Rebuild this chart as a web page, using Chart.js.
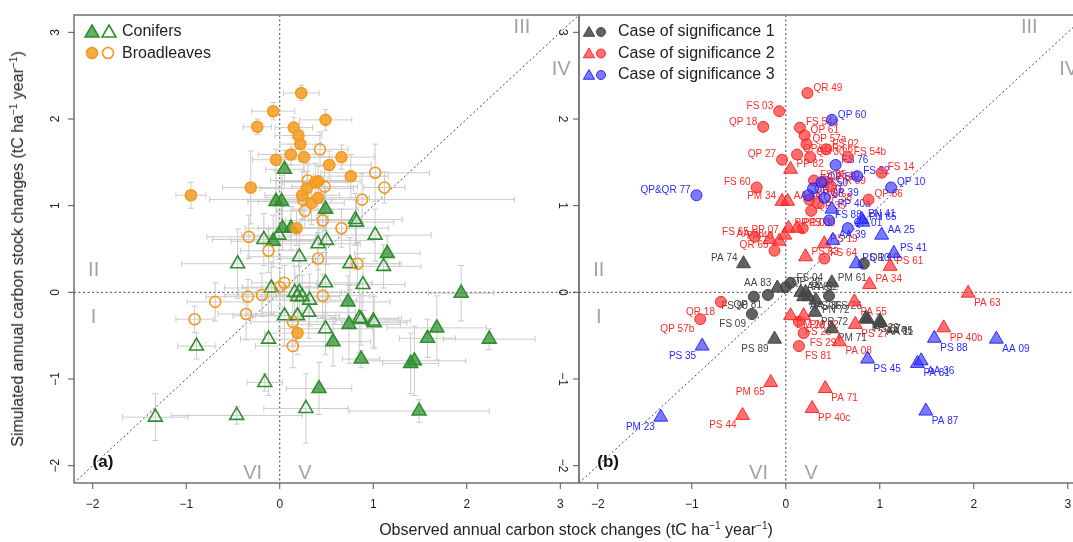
<!DOCTYPE html>
<html>
<head>
<meta charset="utf-8">
<script src="https://cdn.jsdelivr.net/npm/chart.js@4.4.0/dist/chart.umd.min.js"></script>
<style>
  html, body { margin: 0; padding: 0; background: #fff; overflow: hidden; }
  body { width: 1073px; height: 542px; position: relative; font-family: "Liberation Sans", Arial, sans-serif; color: #222; }
  canvas { position: absolute; top: 0; }
  #chartA { left: 0; }
  #chartB { left: 540px; }
  .title { position: absolute; white-space: nowrap; font-size: 16px; }
  .title sup { font-size: 10px; vertical-align: 6px; line-height: 0; }
  #ytitle { left: 18px; top: 249px; transform: translate(-50%, -50%) rotate(-90deg); }
  #xtitle { left: 576px; top: 530px; transform: translate(-50%, -50%); }
</style>
</head>
<body>
<canvas id="chartA" width="580" height="542"></canvas>
<canvas id="chartB" width="560" height="542"></canvas>
<div class="title" id="ytitle">Simulated annual carbon stock changes (tC ha<sup>−1</sup> year<sup>−1</sup>)</div>
<div class="title" id="xtitle">Observed annual carbon stock changes (tC ha<sup>−1</sup> year<sup>−1</sup>)</div>
<script>
const siteLabels = [
  'QR 49','FS 03','QP 18','QP 60','FS 54a','QP 61','QP 57a','QP&QR 66','QP 30','QP 27',
  'FS 02','FS 54b','FS 76','FS 52','FS 14','QP 10','QP 86','FS 60','QP&QR 77','FS 55',
  'QP 59','QR 40','QR 59','QR 50','QR 71','QP 68','QP 38','QP 39','QP 35','FS 88',
  'QP 01','FS 08','FS 65','QR 65','FS 64','QR 10','FS 04','QP 29','FS 90','QP 81',
  'FS 26','FS 09','QR 18','QP 57b','FS 25','FS 29','FS 81',
  'PP 82','PM 34','AA 34','PP 40a','PP 17','PP 03','AA 38','PA 40','PP 07','PN 41',
  'PN 65','AA 25','PS 19','AA 39','PS 41','PS 63','PS 10','PS 61','PA 74','AA 83',
  'PM 61','PA 34','AA 62','PA 52','PS 36','PN 72','AA 76','PA 55','PM 20','PM 02',
  'PP 72','PP 20','AA 05','PS 27','PM 71','PA 08','PS 89','PS 45','PA 63','PP 40b',
  'PS 88','AA 09','PA 81','AA 36','PA 71','PP 40c','PA 87','PM 65','PS 44','PM 23',
  'PS 35','PS 67a','AA 11'
];
const observed = [
  0.23,-0.07,-0.24,0.49,0.15,0.20,0.22,0.12,0.26,-0.04,
  0.43,0.66,0.53,0.76,1.02,1.12,0.88,-0.31,-0.95,0.30,
  0.38,0.41,0.48,0.29,0.24,0.25,0.34,0.41,0.27,0.46,
  0.66,0.18,-0.33,-0.12,0.41,0.83,0.05,0.00,-0.34,-0.19,
  0.46,-0.36,-0.69,-0.91,0.14,0.19,0.14,
  0.05,-0.04,0.02,0.49,0.03,0.12,-0.17,-0.07,-0.01,0.81,
  0.82,1.02,0.41,0.50,1.15,0.21,0.75,1.11,-0.45,-0.09,
  0.49,0.89,0.16,0.21,0.24,0.32,0.19,0.73,0.05,0.19,
  0.31,0.85,1.00,0.74,0.49,0.57,-0.12,0.87,1.94,1.68,
  1.58,2.24,1.40,1.44,0.42,0.28,1.49,-0.16,-0.46,-1.33,
  -0.89,0.87,1.01
];
const simulated = [
  2.30,2.09,1.91,1.99,1.90,1.81,1.71,1.59,1.56,1.53,
  1.65,1.56,1.47,1.34,1.38,1.21,1.07,1.21,1.12,1.29,
  1.27,1.28,1.22,1.20,1.12,1.07,1.03,1.09,0.94,0.83,
  0.74,0.74,0.64,0.48,0.39,0.33,0.11,0.06,-0.05,-0.03,
  -0.04,-0.25,-0.11,-0.31,-0.34,-0.47,-0.62,
  1.42,1.05,1.05,0.96,0.74,0.74,0.61,0.59,0.66,0.84,
  0.81,0.66,0.56,0.60,0.45,0.41,0.33,0.30,0.33,0.05,
  0.11,0.09,0.00,0.00,-0.05,-0.09,-0.05,-0.11,-0.27,-0.27,
  -0.23,-0.30,-0.33,-0.37,-0.42,-0.57,-0.54,-0.77,-0.01,-0.41,
  -0.53,-0.54,-0.82,-0.79,-1.11,-1.34,-1.37,-1.04,-1.42,-1.44,
  -0.62,-0.31,-0.35
];
// 1 = conifer (triangle), 0 = broadleaf (circle)
const isConifer = [
  0,0,0,0,0,0,0,0,0,0, 0,0,0,0,0,0,0,0,0,0, 0,0,0,0,0,0,0,0,0,0,
  0,0,0,0,0,0,0,0,0,0, 0,0,0,0,0,0,0,
  1,1,1,1,1,1,1,1,1,1, 1,1,1,1,1,1,1,1,1,1, 1,1,1,1,1,1,1,1,1,1,
  1,1,1,1,1,1,1,1,1,1, 1,1,1,1,1,1,1,1,1,1, 1,1,1
];
// filled (1) or open (0) symbol in panel (a)
const filledA = [
  1,1,1,1,1,1,1,1,1,1, 0,1,1,1,0,0,0,1,1,0, 1,1,0,1,1,0,1,1,0,0,
  0,1,0,0,0,0,0,0,0,0, 0,0,0,0,0,1,0,
  1,1,1,1,1,1,0,1,0,0, 0,0,0,0,1,0,0,0,0,0, 0,0,0,0,0,0,0,1,0,0,
  0,0,0,1,0,1,0,1,1,1, 1,1,1,1,1,0,1,0,0,0, 0,0,0
];
// case of significance (panel b)
const significance = [
  2,2,2,3,2,2,2,2,2,2, 2,2,3,3,2,3,2,2,3,2, 3,2,2,3,3,2,2,3,2,3,
  3,2,2,2,2,1,1,1,1,1, 1,1,2,2,2,2,2,
  2,2,2,3,2,2,2,2,2,3, 3,3,2,3,3,2,3,2,1,1, 1,2,1,1,1,1,1,2,2,2,
  1,1,1,2,1,2,1,3,2,2, 3,3,3,3,2,2,3,2,2,3, 3,1,1
];
// half-widths of the grey error bars in panel (a)
const errObs = [
  0.19,0.23,0.15,0.28,0.20,0.25,0.22,0.35,0.30,0.25,
  0.30,0.35,0.45,0.40,0.58,0.22,1.63,0.30,0.16,0.40,
  0.35,0.45,0.35,0.50,0.40,0.30,0.35,0.55,0.30,0.40,
  0.50,0.30,0.45,0.30,0.40,0.45,0.35,0.40,0.45,0.40,
  0.50,0.30,0.30,0.20,0.45,0.35,0.40,
  0.20,0.30,0.25,0.35,0.40,0.35,0.55,0.45,0.40,0.50,
  0.40,0.60,0.45,0.50,0.35,0.55,0.55,0.40,0.60,0.50,
  0.50,0.45,0.60,0.45,0.40,0.50,0.35,0.45,0.55,0.45,
  0.50,0.45,0.40,0.55,0.50,0.40,0.30,0.20,0.35,0.53,
  0.30,0.49,0.30,0.55,0.35,0.45,0.75,0.19,0.70,0.35,
  0.20,0.40,0.35
];
const errSim = [
  0.09,0.10,0.09,0.12,0.12,0.14,0.16,0.12,0.18,0.12,
  0.20,0.14,0.16,0.25,0.33,0.18,0.30,0.42,0.15,0.20,
  0.22,0.18,0.25,0.20,0.28,0.22,0.25,0.20,0.20,0.25,
  0.22,0.20,0.25,0.25,0.30,0.25,0.20,0.22,0.20,0.25,
  0.25,0.30,0.22,0.15,0.28,0.25,0.25,
  0.22,0.35,0.30,0.25,0.25,0.25,0.30,0.30,0.28,0.30,
  0.25,0.30,0.30,0.28,0.20,0.40,0.30,0.25,0.40,0.30,
  0.35,0.30,0.30,0.30,0.25,0.30,0.25,0.30,0.35,0.30,
  0.30,0.40,0.30,0.45,0.30,0.28,0.65,0.10,0.32,0.37,
  0.22,0.12,0.35,0.40,0.30,0.40,0.13,0.10,0.10,0.27,
  0.15,0.30,0.30
];
const axisTicks = [-2, -1, 0, 1, 2, 3];
const legendA = ['Conifers', 'Broadleaves'];
const legendB = ['Case of significance 1', 'Case of significance 2', 'Case of significance 3'];
const quadrantNames = ['I', 'II', 'III', 'IV', 'V', 'VI'];

const FONT = '"Liberation Sans", Arial, sans-serif';
const AXMIN = -2.2, AXMAX = 3.2;

const conGreen = '#2f8f2f';
const conFill = 'rgba(47,143,47,0.72)';
const brOrange = '#f39a1f';
const brFill = 'rgba(246,158,36,0.85)';
const sigStroke = ['#444444', 'rgba(255,20,20,0.85)', 'rgba(20,20,255,0.85)'];
const sigFill = ['rgba(70,70,70,0.85)', 'rgba(255,50,50,0.7)', 'rgba(50,50,255,0.65)'];
const sigText = ['#444444', '#ff2a2a', '#2a2aff'];

function pointsWhere(test) {
  const out = [];
  for (let i = 0; i < observed.length; i++) {
    if (test(i)) out.push({ x: observed[i], y: simulated[i], i: i });
  }
  return out;
}

function drawShape(ctx, style, x, y, r, fill, stroke, lw) {
  ctx.save();
  ctx.beginPath();
  if (style === 'triangle') {
    ctx.moveTo(x, y - r);
    ctx.lineTo(x + r * 0.866, y + r * 0.5);
    ctx.lineTo(x - r * 0.866, y + r * 0.5);
    ctx.closePath();
  } else {
    ctx.arc(x, y, r, 0, Math.PI * 2);
  }
  if (fill) { ctx.fillStyle = fill; ctx.fill(); }
  ctx.lineWidth = lw;
  ctx.strokeStyle = stroke;
  ctx.stroke();
  ctx.restore();
}

// dotted reference lines: x = 0, y = 0 and the 1:1 line
function drawReferenceLines(chart) {
  const ctx = chart.ctx, xs = chart.scales.x, ys = chart.scales.y, a = chart.chartArea;
  ctx.save();
  ctx.strokeStyle = '#444';
  ctx.lineWidth = 1;
  ctx.setLineDash([2, 2.5]);
  ctx.beginPath();
  ctx.moveTo(xs.getPixelForValue(0), a.top);
  ctx.lineTo(xs.getPixelForValue(0), a.bottom);
  ctx.moveTo(a.left, ys.getPixelForValue(0));
  ctx.lineTo(a.right, ys.getPixelForValue(0));
  ctx.moveTo(xs.getPixelForValue(AXMIN), ys.getPixelForValue(AXMIN));
  ctx.lineTo(xs.getPixelForValue(AXMAX), ys.getPixelForValue(AXMAX));
  ctx.stroke();
  ctx.restore();
}

function drawFrameAndAxes(chart, labelX, labelRot) {
  const ctx = chart.ctx, xs = chart.scales.x, ys = chart.scales.y, a = chart.chartArea;
  ctx.save();
  ctx.strokeStyle = '#7a7a7a';
  ctx.lineWidth = 1.6;
  ctx.strokeRect(a.left, a.top, a.right - a.left, a.bottom - a.top);
  ctx.lineWidth = 1;
  ctx.strokeStyle = '#555';
  ctx.fillStyle = '#222';
  ctx.font = '12px ' + FONT;
  ctx.textAlign = 'center';
  ctx.textBaseline = 'middle';
  axisTicks.forEach(function(t) {
    const px = xs.getPixelForValue(t);
    ctx.beginPath();
    ctx.moveTo(px, a.bottom);
    ctx.lineTo(px, a.bottom + 6);
    ctx.stroke();
    ctx.fillText(t < 0 ? '\u2212' + Math.abs(t) : String(t), px, a.bottom + 22);
    const py = ys.getPixelForValue(t);
    ctx.beginPath();
    ctx.moveTo(a.left, py);
    ctx.lineTo(a.left - 6, py);
    ctx.stroke();
    ctx.save();
    ctx.translate(labelX, py);
    ctx.rotate(labelRot);
    ctx.fillText(t < 0 ? '\u2212' + Math.abs(t) : String(t), 0, 0);
    ctx.restore();
  });
  ctx.restore();
}

function drawQuadrants(chart, tag) {
  const ctx = chart.ctx, xs = chart.scales.x, ys = chart.scales.y;
  const spots = [[-1.99, -0.29], [-1.99, 0.25], [2.59, 3.06], [3.01, 2.57], [0.27, -2.09], [-0.29, -2.09]];
  ctx.save();
  ctx.fillStyle = '#a3a3a3';
  ctx.font = '20px ' + FONT;
  ctx.textAlign = 'center';
  ctx.textBaseline = 'middle';
  quadrantNames.forEach(function(q, k) {
    ctx.fillText(q, xs.getPixelForValue(spots[k][0]), ys.getPixelForValue(spots[k][1]));
  });
  ctx.fillStyle = '#111';
  ctx.font = 'bold 17px ' + FONT;
  ctx.fillText(tag, xs.getPixelForValue(-1.89), ys.getPixelForValue(-1.96));
  ctx.restore();
}

const panelA = {
  id: 'panelA',
  beforeDatasetsDraw(chart) {
    const ctx = chart.ctx, xs = chart.scales.x, ys = chart.scales.y;
    drawReferenceLines(chart);
    ctx.save();
    ctx.strokeStyle = '#cbcbcb';
    ctx.lineWidth = 1;
    for (let i = 0; i < observed.length; i++) {
      const px = xs.getPixelForValue(observed[i]), py = ys.getPixelForValue(simulated[i]);
      const x0 = xs.getPixelForValue(observed[i] - errObs[i]), x1 = xs.getPixelForValue(observed[i] + errObs[i]);
      const y0 = ys.getPixelForValue(simulated[i] - errSim[i]), y1 = ys.getPixelForValue(simulated[i] + errSim[i]);
      ctx.beginPath();
      ctx.moveTo(x0, py); ctx.lineTo(x1, py);
      ctx.moveTo(x0, py - 3); ctx.lineTo(x0, py + 3);
      ctx.moveTo(x1, py - 3); ctx.lineTo(x1, py + 3);
      ctx.moveTo(px, y0); ctx.lineTo(px, y1);
      ctx.moveTo(px - 3, y0); ctx.lineTo(px + 3, y0);
      ctx.moveTo(px - 3, y1); ctx.lineTo(px + 3, y1);
      ctx.stroke();
    }
    ctx.restore();
  },
  afterDraw(chart) {
    const ctx = chart.ctx;
    drawFrameAndAxes(chart, 56, -Math.PI / 2);
    drawQuadrants(chart, '(a)');
    drawShape(ctx, 'triangle', 92, 33, 8, conFill, conGreen, 1.6);
    drawShape(ctx, 'triangle', 109, 33, 8, null, conGreen, 1.6);
    drawShape(ctx, 'circle', 92, 53, 5.5, brFill, brOrange, 1.6);
    drawShape(ctx, 'circle', 108, 53, 5.5, null, brOrange, 1.6);
    ctx.save();
    ctx.fillStyle = '#222';
    ctx.font = '16px ' + FONT;
    ctx.textBaseline = 'middle';
    ctx.fillText(legendA[0], 122, 32);
    ctx.fillText(legendA[1], 122, 54);
    ctx.restore();
  }
};

const panelB = {
  id: 'panelB',
  beforeDatasetsDraw(chart) {
    const ctx = chart.ctx, xs = chart.scales.x, ys = chart.scales.y;
    drawReferenceLines(chart);
    ctx.save();
    ctx.font = '10px ' + FONT;
    ctx.textBaseline = 'middle';
    for (let i = 0; i < observed.length; i++) {
      const px = xs.getPixelForValue(observed[i]), py = ys.getPixelForValue(simulated[i]);
      const right = observed[i] >= 0;
      ctx.textAlign = right ? 'left' : 'right';
      ctx.fillStyle = sigText[significance[i] - 1];
      ctx.fillText(siteLabels[i], px + (right ? 6 : -6), simulated[i] >= 0 ? py - 5 : py + 10);
    }
    ctx.restore();
  },
  afterDraw(chart) {
    const ctx = chart.ctx;
    drawFrameAndAxes(chart, 22, Math.PI / 2);
    drawQuadrants(chart, '(b)');
    ctx.save();
    ctx.fillStyle = '#222';
    ctx.font = '16px ' + FONT;
    ctx.textBaseline = 'middle';
    legendB.forEach(function(txt, k) {
      const y = 32 + k * 21.5;
      drawShape(ctx, 'triangle', 49, y + 1, 6.5, sigFill[k], sigStroke[k], 1);
      drawShape(ctx, 'circle', 61, y, 4.5, sigFill[k], sigStroke[k], 1);
      ctx.fillText(txt, 78, y);
    });
    ctx.restore();
  }
};

function scatterOptions(pad) {
  return {
    responsive: false,
    animation: false,
    devicePixelRatio: 1,
    layout: { padding: pad, autoPadding: false },
    plugins: { legend: { display: false }, tooltip: { enabled: false } },
    scales: {
      x: { type: 'linear', min: AXMIN, max: AXMAX, display: false },
      y: { type: 'linear', min: AXMIN, max: AXMAX, display: false }
    }
  };
}

function dsA(conifer, filled) {
  const color = conifer ? conGreen : brOrange;
  return {
    data: pointsWhere(function(i) { return isConifer[i] === conifer && filledA[i] === filled; }),
    pointStyle: conifer ? 'triangle' : 'circle',
    pointRadius: conifer ? 8 : 5.5,
    pointBorderWidth: 1.6,
    pointBorderColor: color,
    pointBackgroundColor: filled ? (conifer ? conFill : brFill) : 'rgba(255,255,255,0)',
    showLine: false
  };
}

function dsB(sig, conifer) {
  return {
    data: pointsWhere(function(i) { return significance[i] === sig && isConifer[i] === conifer; }),
    pointStyle: conifer ? 'triangle' : 'circle',
    pointRadius: conifer ? 8 : 5.5,
    pointBorderWidth: 1,
    pointBorderColor: sigStroke[sig - 1],
    pointBackgroundColor: sigFill[sig - 1],
    showLine: false
  };
}

document.addEventListener('DOMContentLoaded', function() {
  new Chart(document.getElementById('chartA'), {
    type: 'scatter',
    data: { datasets: [dsA(0, 1), dsA(0, 0), dsA(1, 1), dsA(1, 0)] },
    options: scatterOptions({ left: 74, right: 1, top: 15, bottom: 59 }),
    plugins: [panelA]
  });

  new Chart(document.getElementById('chartB'), {
    type: 'scatter',
    data: { datasets: [dsB(3, 1), dsB(3, 0), dsB(2, 1), dsB(2, 0), dsB(1, 1), dsB(1, 0)] },
    options: scatterOptions({ left: 39, right: 13.4, top: 15, bottom: 59 }),
    plugins: [panelB]
  });
});
</script>
</body>
</html>
